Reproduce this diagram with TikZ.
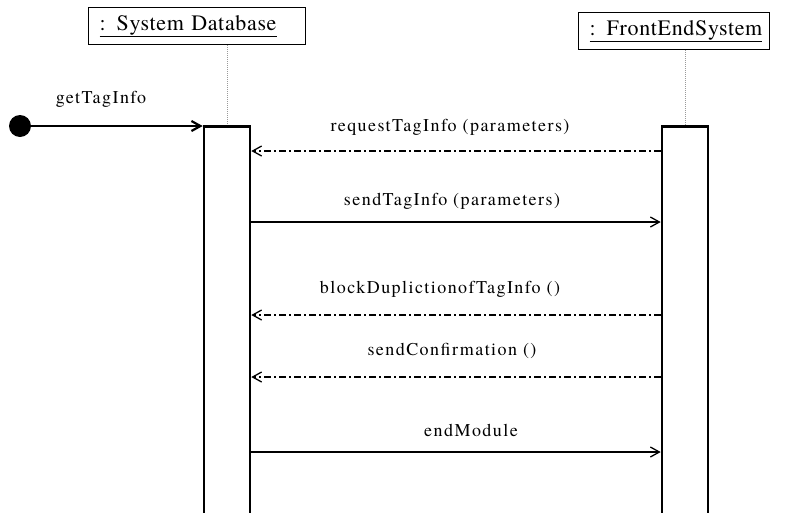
\documentclass[tikz,border=0pt]{standalone}
\usepackage{fontspec}
\setmainfont{TeX Gyre Termes}
\usetikzlibrary{arrows.meta}

\begin{document}
\begin{tikzpicture}[x=1pt,y=-1pt,
  head/.style={draw, line width=1.2pt, anchor=north west, minimum height=37pt,
    inner xsep=11pt, inner ysep=0pt, align=left,
    font=\rmfamily\fontsize{22}{25}\selectfont\addfontfeatures{LetterSpace=3}},
  act/.style={draw, line width=2.6pt, fill=white, anchor=north,
    minimum width=46pt, minimum height=430pt},
  lifeline/.style={draw=gray!80, line width=0.8pt, dash pattern=on 1pt off 1pt},
  tip/.style={-{Straight Barb[length=9pt,width=10pt]}},
  call/.style={tip, line width=1.3pt},
  ret/.style={tip, line width=1.3pt, dash pattern=on 7pt off 3pt on 2pt off 3pt},
  msg/.style={anchor=base, inner sep=0pt,
    font=\rmfamily\fontsize{18}{21}\selectfont\addfontfeatures{LetterSpace=8}},
  startdot/.style={circle, fill=black, minimum size=22pt, inner sep=0pt}
]
\useasboundingbox (0,0) rectangle (812,512);
\fill[white] (0,0) rectangle (812,512);
\begin{scope}
\clip (0,0) rectangle (812,512);

% object heads
\node[head, text width=195pt] (dbhead) at (88,7) {\underline{: System Database}};
\node[head, text width=169pt] (fehead) at (578,12) {\underline{: FrontEndSystem}};

% activation bars
\node[act] (dbact) at (227,125) {};
\node[act] (feact) at (685,125) {};

% lifelines
\draw[lifeline] (dbact.north |- dbhead.south) -- (dbact.north);
\draw[lifeline] (feact.north |- fehead.south) -- (feact.north);

% found message
\node[startdot] (start) at (20,126) {};
\draw[tip, line width=2.2pt] (start) -- (dbact.west |- start);
\node[msg] (lget) at (101,103) {getTagInfo};

% messages between the two objects
\coordinate (y1) at (0,151);
\coordinate (y2) at (0,222);
\coordinate (y3) at (0,315);
\coordinate (y4) at (0,377);
\coordinate (y5) at (0,452);

\draw[ret] (feact.west |- y1) -- (dbact.east |- y1);
\node[msg] (lreq) at (450,131) {requestTagInfo (parameters)};

\draw[call] (dbact.east |- y2) -- (feact.west |- y2);
\node[msg] (lsend) at (452,205) {sendTagInfo (parameters)};

\draw[ret] (feact.west |- y3) -- (dbact.east |- y3);
\node[msg] (lblock) at (440,293) {blockDuplictionofTagInfo ()};

\draw[ret] (feact.west |- y4) -- (dbact.east |- y4);
\node[msg] (lconf) at (452,355) {sendConfirmation ()};

\draw[call] (dbact.east |- y5) -- (feact.west |- y5);
\node[msg] (lend) at (471,436) {endModule};
\end{scope}
\end{tikzpicture}
\end{document}
